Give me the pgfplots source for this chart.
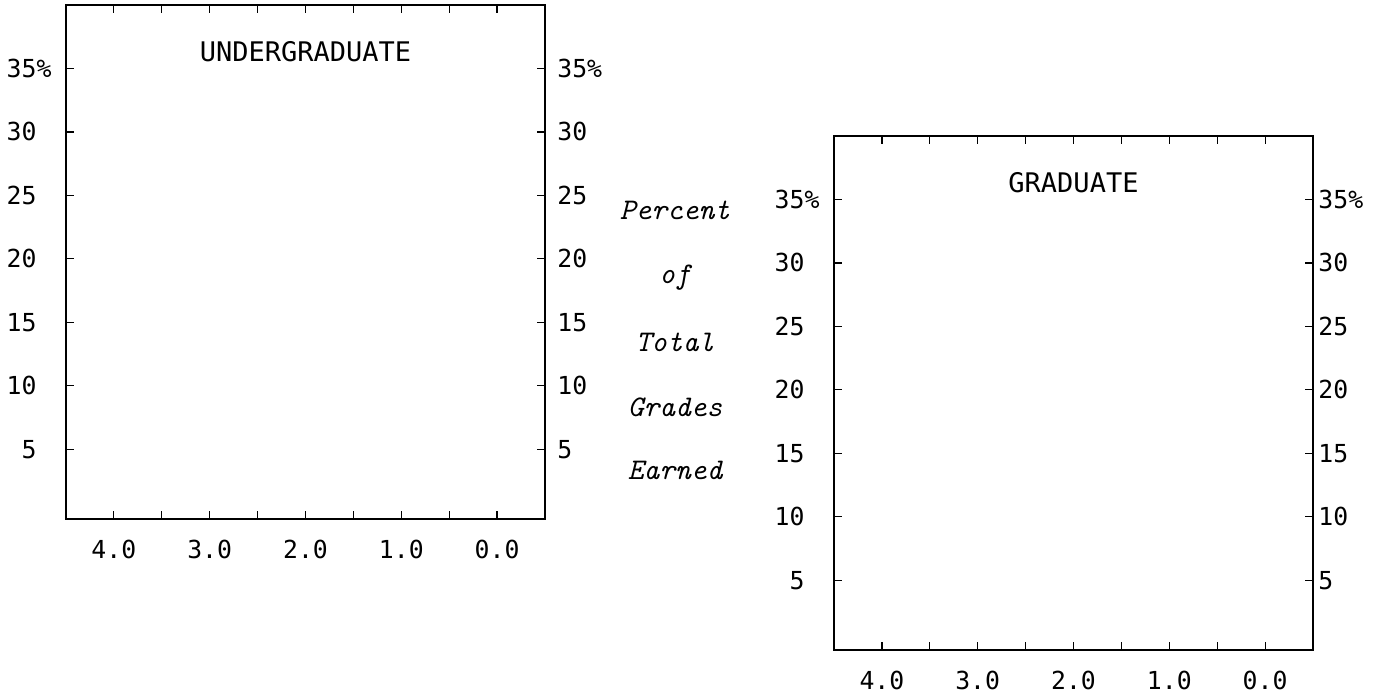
\documentclass[border=0pt]{standalone}
\usepackage{fontspec}
\usepackage{pgfplots}
\pgfplotsset{compat=1.18}
\newfontfamily\mono{DejaVu Sans Mono}
\begin{document}
\begin{tikzpicture}
\path[use as bounding box] (0,0) rectangle (690pt,-347pt);
\pgfplotsset{
 panel/.style={
  width=239.5pt, height=257pt, scale only axis, anchor=north west,
  xmin=-0.5, xmax=4.5, x dir=reverse, ymin=-0.5, ymax=40,
  xtick={0,0.5,1,1.5,2,2.5,3,3.5,4},
  xtick pos=both, ytick={5,10,15,20,25,30,35}, ytick pos=both,
  tick align=inside, major tick length=4pt,
  axis line style={line width=0.7pt, black},
  every tick/.style={line width=0.6pt, black},
  xticklabel style={font=\mono\fontsize{12.4}{14}\selectfont, anchor=center, inner sep=0pt, yshift=-15pt},
  yticklabel style={font=\mono\fontsize{12.4}{14}\selectfont, inner sep=0pt},
 },
 leftlab/.style={xticklabels={0.0,,1.0,,2.0,,3.0,,4.0}, yticklabel pos=left,
  yticklabels={5,10,15,20,25,30,35\rlap{\%}},
  yticklabel style={anchor=east, xshift=-#1}},
 rightlab/.style={xticklabels={}, yticklabel pos=right,
  yticklabels={5,10,15,20,25,30,35\%},
  yticklabel style={anchor=west, xshift=#1}},
}
% Undergraduate
\begin{axis}[panel, leftlab=14.5pt, at={(33pt,-2.5pt)}]
\node[font=\mono\fontsize{13.5}{15}\selectfont] at (rel axis cs:0.5,0.9086) {UNDERGRADUATE};
\end{axis}
\begin{axis}[panel, rightlab=6pt, at={(33pt,-2.5pt)}]
\end{axis}
% Graduate
\begin{axis}[panel, leftlab=14.5pt, at={(417pt,-68pt)}]
\node[font=\mono\fontsize{13.5}{15}\selectfont] at (rel axis cs:0.5,0.9086) {GRADUATE};
\end{axis}
\begin{axis}[panel, rightlab=2.5pt, at={(417pt,-68pt)}]
\end{axis}
% Middle label
\begin{scope}[every node/.style={font=\ttfamily\itshape\fontsize{15}{17}\selectfont}]
\node at (337.5pt,-105pt) {Percent};
\node at (337.5pt,-139pt) {of};
\node at (337.5pt,-171pt) {Total};
\node at (337.5pt,-203.5pt) {Grades};
\node at (337.5pt,-235pt) {Earned};
\end{scope}
\end{tikzpicture}
\end{document}
